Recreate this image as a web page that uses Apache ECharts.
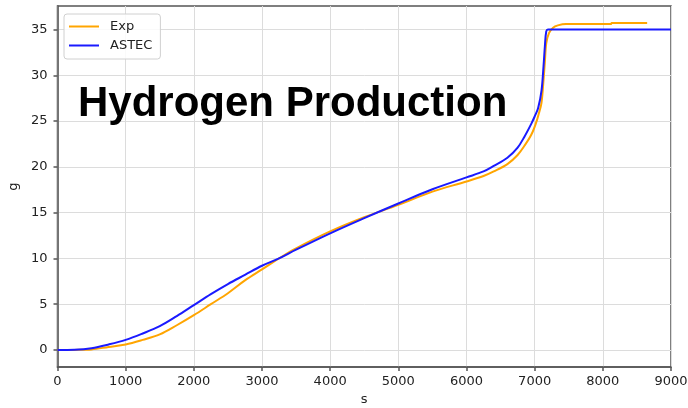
<!DOCTYPE html>
<html>
<head>
<meta charset="utf-8">
<script src="https://cdn.jsdelivr.net/npm/echarts@6/dist/echarts.min.js"></script>
<style>
  html, body { margin: 0; padding: 0; background: #fff; }
  #chart { width: 688px; height: 408px; }
</style>
</head>
<body>
<div id="chart"></div>
<script>
// Cumulative hydrogen mass (g) against time (s)
const expTime = [0, 250, 500, 750, 1000, 1250, 1500, 1750, 2000, 2250, 2500, 2750, 3000, 3250, 3500, 4000, 4500, 5000, 5500, 6000, 6250, 6400, 6600, 6750, 6850, 6950, 7020, 7060, 7100, 7130, 7150, 7170, 7210, 7270, 7340, 7460, 8120, 8130, 8650];
const expMass = [0, 0.01, 0.06, 0.33, 0.6, 1.1, 1.7, 2.7, 3.8, 5.0, 6.2, 7.6, 8.8, 10.0, 11.1, 12.95, 14.5, 15.85, 17.3, 18.4, 19.0, 19.5, 20.3, 21.3, 22.3, 23.5, 24.8, 25.8, 27.0, 29.5, 31.5, 33.5, 34.6, 35.2, 35.45, 35.6, 35.6, 35.72, 35.72];

const astecTime = [0, 250, 500, 750, 1000, 1250, 1500, 1750, 2000, 2250, 2500, 2750, 3000, 3250, 3500, 4000, 4500, 5000, 5500, 6000, 6250, 6400, 6600, 6750, 6850, 6950, 7000, 7050, 7100, 7130, 7150, 7170, 7195, 9000];
const astecMass = [0, 0.03, 0.2, 0.6, 1.1, 1.8, 2.6, 3.7, 4.9, 6.1, 7.2, 8.2, 9.2, 10.0, 10.95, 12.74, 14.4, 16.0, 17.55, 18.85, 19.5, 20.1, 21.0, 22.1, 23.3, 24.7, 25.5, 26.4, 28.3, 31.0, 33.2, 34.8, 35.0, 35.0];

const xTicks = [0, 1000, 2000, 3000, 4000, 5000, 6000, 7000, 8000, 9000];
const yTicks = [0, 5, 10, 15, 20, 25, 30, 35];

const seriesNames = ['Exp', 'ASTEC'];
const seriesColors = ['#ffa500', '#1a1aff'];

const pair = (xs, ys) => xs.map((x, i) => [x, ys[i]]);

const tickFont = { fontFamily: 'DejaVu Sans', fontSize: 13, color: '#222' };
const spine = { color: '#555', width: 1.5 };

const chart = echarts.init(document.getElementById('chart'), null, { renderer: 'canvas' });

chart.setOption({
  animation: false,
  backgroundColor: '#ffffff',
  title: {
    text: 'Hydrogen Production',
    left: 78,
    top: 83,
    padding: 0,
    textStyle: {
      fontFamily: 'Liberation Sans',
      fontWeight: 'bold',
      fontSize: 42,
      color: '#000'
    }
  },
  legend: {
    data: seriesNames,
    orient: 'vertical',
    left: 64,
    top: 14,
    padding: [6, 8, 7, 5],
    itemGap: 6,
    itemWidth: 30,
    itemHeight: 2,
    icon: 'rect',
    backgroundColor: 'rgba(255,255,255,0.85)',
    borderColor: '#d0d0d0',
    borderWidth: 1,
    borderRadius: 3,
    textStyle: {
      fontFamily: 'DejaVu Sans',
      fontSize: 13,
      color: '#222',
      padding: [0, 0, 0, 6]
    }
  },
  grid: {
    left: 57.5,
    right: 17,
    top: 6,
    bottom: 41,
    containLabel: false,
    outerBoundsMode: 'none',
    show: true,
    backgroundColor: 'transparent',
    borderColor: '#555',
    borderWidth: 1.5
  },
  xAxis: {
    type: 'value',
    min: 0,
    max: 9000,
    interval: 1000,
    name: 's',
    nameLocation: 'middle',
    nameGap: 26,
    nameTextStyle: { fontFamily: 'DejaVu Sans', fontSize: 13, color: '#222' },
    axisLine: { show: true, onZero: false, lineStyle: spine },
    axisTick: { show: true, inside: false, length: 4, lineStyle: spine, customValues: xTicks },
    axisLabel: Object.assign({ margin: 8, customValues: xTicks, formatter: v => String(v) }, tickFont),
    splitLine: { show: true, lineStyle: { color: '#dcdcdc', width: 1 } }
  },
  yAxis: {
    type: 'value',
    min: -1.86,
    max: 37.57,
    splitNumber: 8,
    name: 'g',
    nameLocation: 'middle',
    nameGap: 28,
    nameRotate: 90,
    nameTextStyle: { fontFamily: 'DejaVu Sans', fontSize: 13, color: '#222' },
    axisLine: { show: true, onZero: false, lineStyle: spine },
    axisTick: { show: true, inside: false, length: 4, lineStyle: spine, customValues: yTicks },
    axisLabel: Object.assign({
      margin: 10,
      customValues: yTicks,
      formatter: v => (yTicks.indexOf(Math.round(v * 100) / 100) >= 0 ? String(v) : '')
    }, tickFont),
    splitLine: { show: true, lineStyle: { color: '#dcdcdc', width: 1 } }
  },
  series: [
    {
      name: seriesNames[0],
      type: 'line',
      data: pair(expTime, expMass),
      showSymbol: false,
      smooth: 0.35,
      color: seriesColors[0],
      lineStyle: { color: seriesColors[0], width: 2 },
      z: 2
    },
    {
      name: seriesNames[1],
      type: 'line',
      data: pair(astecTime, astecMass),
      showSymbol: false,
      smooth: 0.35,
      color: seriesColors[1],
      lineStyle: { color: seriesColors[1], width: 2 },
      z: 3
    }
  ]
});
</script>
</body>
</html>
